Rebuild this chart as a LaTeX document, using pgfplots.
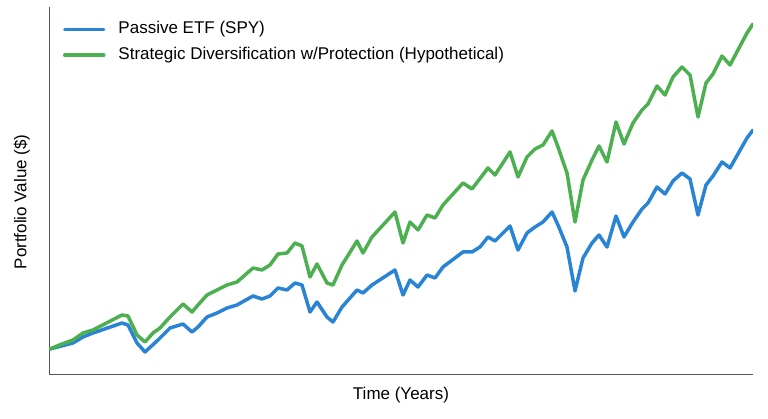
\documentclass[border=0pt]{standalone}
\usepackage{fontspec}
\setmainfont{Liberation Sans}
\usepackage{pgfplots}
\pgfplotsset{compat=1.18}
\definecolor{spyblue}{HTML}{2A84D6}
\definecolor{sdgreen}{HTML}{4CAF50}
\definecolor{axisgray}{HTML}{555555}
\pgfplotstableread{
x y
50 25
73 31
83 37
93 41
122 51
128 49
137 31
145 22
158 34
170 46
183 50
192 42
198 47
207 57
217 61
227 66
237 69
253 78
262 75
270 78
278 86
287 84
295 91
302 89
310 62
317 72
327 57
333 52
342 67
357 84
363 81
372 89
395 104
403 79
410 94
418 87
427 99
435 96
443 107
463 122
472 122
480 127
488 137
495 133
510 148
518 124
527 141
535 147
543 152
552 162
558 149
567 127
575 83
583 116
592 131
599 139
607 127
616 158
624 137
633 152
642 165
648 171
657 187
665 180
673 193
682 201
690 195
698 159
706 189
713 198
722 212
730 206
747 236
753 244
}\spydata
\pgfplotstableread{
x y
50 25
62 30
73 34
83 41
93 44
122 59
128 58
137 39
145 32
153 41
160 46
170 57
183 70
192 62
198 69
207 79
217 84
227 89
237 92
253 106
262 104
270 109
278 120
287 121
295 131
302 128
310 97
317 110
327 91
333 89
342 109
357 133
363 121
372 137
395 162
403 131
410 152
418 144
427 159
435 156
443 169
463 191
472 185
488 206
495 199
510 222
518 197
527 217
535 225
543 229
552 243
558 227
567 201
575 152
583 194
592 214
599 228
607 212
616 252
624 230
633 251
642 264
648 270
657 288
665 279
673 297
682 307
690 299
698 257
706 291
713 300
722 318
730 309
747 341
753 350
}\sddata
\begin{document}
\fontsize{17pt}{20pt}\selectfont
\begin{tikzpicture}[x=1pt,y=1pt]
\useasboundingbox (0,0) rectangle (768,419);
\begin{axis}[
  at={(49pt,45pt)}, anchor=south west,
  scale only axis, width=704pt, height=367pt,
  xmin=49, xmax=753, ymin=0, ymax=367,
  axis x line=bottom, axis y line=left,
  axis line style={-, draw=axisgray, line width=0.9pt},
  ticks=none,
  xlabel={Time (Years)},
  ylabel={Portfolio Value (\$)},
  label style={font=\fontsize{17pt}{20pt}\selectfont},
  xlabel style={at={(axis description cs:0.5,0)}, anchor=center, yshift=-21pt},
  ylabel style={at={(axis description cs:-0.0384,0.469)}, anchor=center},
  legend cell align=left,
  legend image code/.code={\draw[#1] (0pt,0pt) -- (39pt,0pt);},
  legend style={at={(axis cs:63,352)}, anchor=north west, draw=none, fill=none,
    inner sep=0pt, outer sep=0pt, row sep=10pt,
    font=\fontsize{17pt}{20pt}\selectfont,
    nodes={inner sep=0pt, text height=12pt, text depth=3.5pt},
    /tikz/every odd column/.append style={column sep=13pt}},
]
\addplot[spyblue, line width=3.5pt, line join=round, line cap=round] table[x=x,y=y] {\spydata};
\addlegendentry{Passive ETF (SPY)}
\addplot[sdgreen, line width=3.5pt, line join=round, line cap=round] table[x=x,y=y] {\sddata};
\addlegendentry{Strategic Diversification w/Protection (Hypothetical)}
\end{axis}
\end{tikzpicture}
\end{document}
